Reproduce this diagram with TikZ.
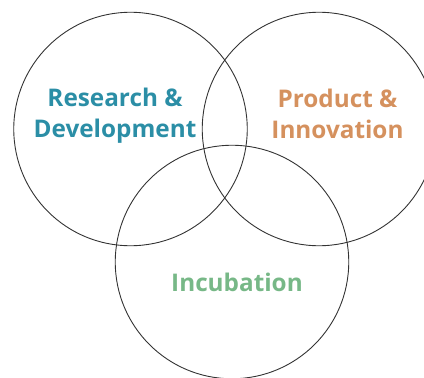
\documentclass[tikz,border=0pt]{standalone}
\usepackage{fontspec}
\setmainfont{Open Sans}
\definecolor{rdblue}{HTML}{2B8EA6}
\definecolor{pinorange}{HTML}{D5915E}
\definecolor{incgreen}{HTML}{77B887}
\begin{document}
\begin{tikzpicture}[x=1pt, y=-1pt, line width=0.9pt,
	every node/.style={inner sep=0pt, outer sep=0pt},
	ring/.style={circle, draw=black!80, minimum size=233.5pt},
	label/.style={font=\fontsize{24.3}{31.5}\selectfont\bfseries, align=center}]
	\useasboundingbox (0,0) rectangle (424,378);
	% the three rings
	\node[ring] (rdring) at (130.5, 129) {};
	\node[ring] (piring) at (319, 129) {};
	\node[ring] (incring) at (232, 262) {};
	% labels
	\node[label, text=rdblue, anchor=center] (rd) at (115, 115.5) {Research \&\\Development};
	\node[label, text=pinorange, anchor=center] (pi) at (337.5, 114) {Product \&\\Innovation};
	\node[label, text=incgreen, anchor=base] (inc) at (237, 291) {Incubation};
\end{tikzpicture}
\end{document}
